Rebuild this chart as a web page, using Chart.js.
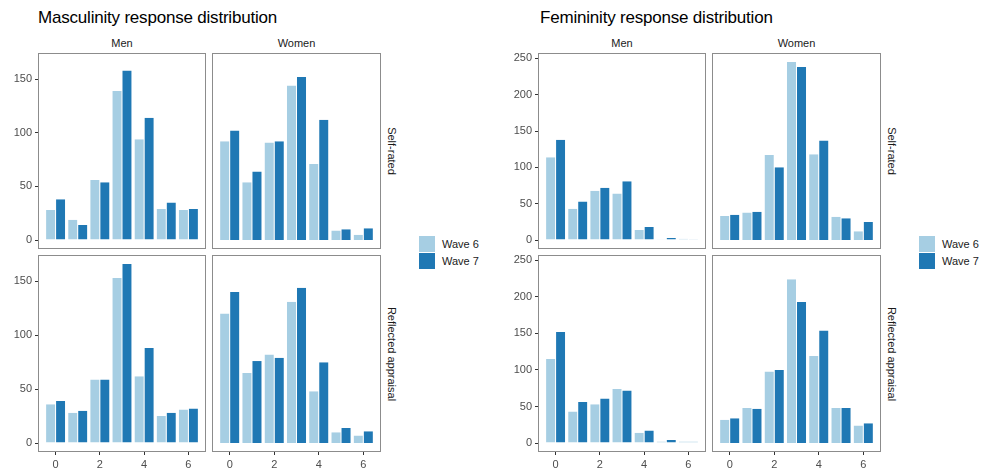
<!DOCTYPE html>
<html><head><meta charset="utf-8">
<script src="https://cdn.jsdelivr.net/npm/chart.js@4"></script>
<style>
html,body{margin:0;padding:0;background:#fff;}
#root{position:relative;width:983px;height:469px;overflow:hidden;font-family:"Liberation Sans",Arial,sans-serif;}
.t{position:absolute;white-space:nowrap;line-height:1;}
canvas{position:absolute;}
</style></head><body><div id="root"></div>
<script>
// ---- data ----
const categories=[0,1,2,3,4,5,6];
const xTicks=[0,2,4,6];
const mascTicks=[0,50,100,150];
const femTicks=[0,50,100,150,200,250];
const seriesNames=["Wave 6","Wave 7"];
const genders=["Men","Women"];
const raters=["Self-rated","Reflected appraisal"];
const figTitles=["Masculinity response distribution","Femininity response distribution"];
// Masculinity
const mascSelfMenW6=[28,19,56,139,94,29,28];
const mascSelfMenW7=[38,14,54,158,114,35,29];
const mascSelfWomenW6=[92,54,91,144,71,9,5];
const mascSelfWomenW7=[102,64,92,152,112,10,11];
const mascReflMenW6=[36,28,59,153,62,25,31];
const mascReflMenW7=[39,30,59,166,88,28,32];
const mascReflWomenW6=[120,65,82,131,48,10,7];
const mascReflWomenW7=[140,76,79,144,75,14,11];
// Femininity
const femSelfMenW6=[114,43,68,64,14,1,2];
const femSelfMenW7=[138,53,72,81,18,3,1];
const femSelfWomenW6=[33,38,117,245,118,32,12];
const femSelfWomenW7=[35,39,100,238,137,30,25];
const femReflMenW6=[115,43,53,74,14,2,2];
const femReflMenW7=[152,56,61,72,17,4,null];
const femReflWomenW6=[32,48,98,224,119,48,24];
const femReflWomenW7=[34,47,100,193,154,48,27];

// ---- layout / style ----
const colors=['#a6cee3','#1f78b4'];
const root=document.getElementById('root');
Chart.defaults.font.family='"Liberation Sans", Arial, sans-serif';
const figures=[
 {title:figTitles[0],ox:0,titleX:38,yTicks:mascTicks,
  panels:[[[mascSelfMenW6,mascSelfMenW7],[mascSelfWomenW6,mascSelfWomenW7]],
          [[mascReflMenW6,mascReflMenW7],[mascReflWomenW6,mascReflWomenW7]]]},
 {title:figTitles[1],ox:500,titleX:40,yTicks:femTicks,
  panels:[[[femSelfMenW6,femSelfMenW7],[femSelfWomenW6,femSelfWomenW7]],
          [[femReflMenW6,femReflMenW7],[femReflWomenW6,femReflWomenW7]]]}
];
const colX=[[38,206],[212,381]];
const rowY=[[53,249],[255,452]];
const yW=38,xH=17,pad={left:4,top:8,right:4,bottom:2};

function addText(txt,css){
  const d=document.createElement('div');d.className='t';d.textContent=txt;
  Object.assign(d.style,css);root.appendChild(d);return d;
}
const borderPlugin={id:'panelBorder',afterDraw(ch){
  const a=ch.chartArea,c=ch.ctx;c.save();c.strokeStyle='#8c8c8c';c.lineWidth=1;
  c.strokeRect(a.left+0.5,a.top+0.5,a.right-a.left-1,a.bottom-a.top-1);c.restore();}};

const span=categories[categories.length-1]-categories[0]+0.9;
const xMin=categories[0]-0.45-0.05*span;
const xMax=categories[categories.length-1]+0.45+0.05*span;

figures.forEach(fig=>{
  let m=0;fig.panels.flat(3).forEach(v=>{if(v!=null&&v>m)m=v;});
  const yMin=-0.05*m,yMax=1.05*m;
  addText(fig.title,{left:(fig.ox+fig.titleX)+'px',top:'9px',fontSize:'17px',letterSpacing:'-0.2px',color:'#000'});
  genders.forEach((g,c)=>{
    const cx=fig.ox+(colX[c][0]+colX[c][1])/2;
    addText(g,{left:cx+'px',top:'38px',fontSize:'11px',color:'#1a1a1a',transform:'translateX(-50%)'});
  });
  raters.forEach((r,ri)=>{
    const cy=(rowY[ri][0]+rowY[ri][1])/2;
    addText(r,{left:(fig.ox+390.7)+'px',top:cy+'px',fontSize:'11px',color:'#1a1a1a',transform:'translate(-50%,-50%) rotate(90deg)'});
  });
  seriesNames.forEach((s,i)=>{
    const d=document.createElement('div');
    Object.assign(d.style,{position:'absolute',left:(fig.ox+419)+'px',top:(236+i*17)+'px',width:'16px',height:'16px',background:colors[i]});
    root.appendChild(d);
    addText(s,{left:(fig.ox+442)+'px',top:(238.5+i*17)+'px',fontSize:'11px',color:'#1a1a1a'});
  });
  for(let r=0;r<2;r++)for(let c=0;c<2;c++){
    const px0=fig.ox+colX[c][0],px1=fig.ox+colX[c][1],py0=rowY[r][0],py1=rowY[r][1];
    const showY=c===0,showX=r===1;
    const left=px0-(showY?yW:0)-pad.left,top=py0-pad.top;
    const w=px1+pad.right-left,h=py1+(showX?xH:0)+pad.bottom-top;
    const cv=document.createElement('canvas');
    cv.width=w;cv.height=h;cv.style.left=left+'px';cv.style.top=top+'px';
    cv.style.width=w+'px';cv.style.height=h+'px';root.appendChild(cv);
    const datasets=fig.panels[r][c].map((vals,i)=>({label:seriesNames[i],
      data:categories.map((x,k)=>({x:x,y:vals[k]})),backgroundColor:colors[i],
      borderColor:'rgba(255,255,255,0.7)',borderWidth:{left:0.5,right:0.5,top:0,bottom:0},borderSkipped:false,inflateAmount:0,
      categoryPercentage:0.9,barPercentage:1.0}));
    new Chart(cv,{type:'bar',data:{datasets},plugins:[borderPlugin],options:{
      responsive:false,animation:false,devicePixelRatio:1,skipNull:true,
      layout:{padding:pad},
      plugins:{legend:{display:false},tooltip:{enabled:false}},
      scales:{
        x:{type:'linear',min:xMin,max:xMax,offset:false,display:showX,
          afterBuildTicks:s=>{s.ticks=xTicks.map(v=>({value:v}));},
          afterFit:s=>{s.height=showX?xH:0;s.paddingLeft=0;s.paddingRight=0;},
          grid:{display:true,drawOnChartArea:false,drawTicks:true,tickLength:3,color:'#333333',offset:false},
          border:{display:false},
          ticks:{color:'#4d4d4d',font:{size:11},padding:3,maxRotation:0,autoSkip:false}},
        y:{type:'linear',min:yMin,max:yMax,display:showY,
          afterBuildTicks:s=>{s.ticks=fig.yTicks.map(v=>({value:v}));},
          afterFit:s=>{s.width=showY?yW:0;s.paddingTop=0;s.paddingBottom=0;},
          grid:{display:true,drawOnChartArea:false,drawTicks:true,tickLength:3,color:'#333333'},
          border:{display:false},
          ticks:{color:'#4d4d4d',font:{size:11},padding:3,autoSkip:false}}
      }}});
  }
});
</script></body></html>
